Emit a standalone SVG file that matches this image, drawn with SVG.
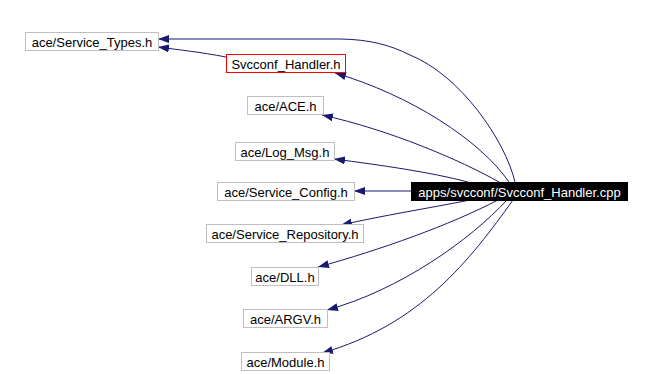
<svg xmlns="http://www.w3.org/2000/svg" width="652" height="374" viewBox="0 0 652 374">
  <style>
    .box { fill: #ffffff; stroke: #bfbfbf; stroke-width: 1; }
    .cur { fill: #ffffff; stroke: #ff0000; stroke-width: 1; }
    .root { fill: #000000; stroke: #000000; stroke-width: 1; }
    text { font-family: "Liberation Sans", Arial, sans-serif; font-size: 13px; fill: #000000; text-anchor: middle; }
    .root-label { fill: #ffffff; }
    .edge { fill: none; stroke: #191970; stroke-width: 1; marker-end: url(#arrow); }
  </style>
  <defs>
    <marker id="arrow" markerUnits="userSpaceOnUse" markerWidth="11" markerHeight="8" refX="11" refY="4" orient="auto">
      <path d="M0,0 L11,4 L0,8 z" fill="#191970"/>
    </marker>
  </defs>
  <rect width="652" height="374" fill="#ffffff"/>

  <g id="connectors">
    <path class="edge" d="M515,182 C505,140 460,75 410,55 C390,45 370,39.5 340,39 L158,39"/>
    <path class="edge" d="M226,57 C200,52 180,50 158,47"/>
    <path class="edge" d="M509,182 C480,140 410,95 335,73"/>
    <path class="edge" d="M499,182 C460,160 390,130 322,115"/>
    <path class="edge" d="M468,182 C430,172 380,165 334,159"/>
    <path class="edge" d="M411,191 L354,191"/>
    <path class="edge" d="M470,200 C430,208 380,216 341,225"/>
    <path class="edge" d="M498,200 C450,225 380,250 318,267"/>
    <path class="edge" d="M507,200 C470,240 400,290 327,310"/>
    <path class="edge" d="M513,200 C470,260 420,325 322,353"/>
  </g>

  <g id="node-service-types">
    <rect class="box" x="25.5" y="32.5" width="133" height="18"/>
    <text x="92" y="46.5">ace/Service_Types.h</text>
  </g>
  <g id="node-svcconf-handler-h">
    <rect class="cur" x="226.5" y="54.5" width="119" height="18"/>
    <text x="286" y="68.5">Svcconf_Handler.h</text>
  </g>
  <g id="node-ace">
    <rect class="box" x="247.5" y="96.5" width="76" height="18"/>
    <text x="285.5" y="110.5">ace/ACE.h</text>
  </g>
  <g id="node-log-msg">
    <rect class="box" x="235.5" y="142.5" width="99" height="18"/>
    <text x="285" y="156.5">ace/Log_Msg.h</text>
  </g>
  <g id="node-service-config">
    <rect class="box" x="217.5" y="182.5" width="137" height="18"/>
    <text x="286" y="196.5">ace/Service_Config.h</text>
  </g>
  <g id="node-service-repository">
    <rect class="box" x="206.5" y="224.5" width="157" height="18"/>
    <text x="285" y="238.5">ace/Service_Repository.h</text>
  </g>
  <g id="node-dll">
    <rect class="box" x="251.5" y="267.5" width="67" height="18"/>
    <text x="285" y="281.5">ace/DLL.h</text>
  </g>
  <g id="node-argv">
    <rect class="box" x="243.5" y="309.5" width="84" height="18"/>
    <text x="285.5" y="323.5">ace/ARGV.h</text>
  </g>
  <g id="node-module">
    <rect class="box" x="241.5" y="352.5" width="88" height="18"/>
    <text x="285.5" y="366.5">ace/Module.h</text>
  </g>
  <g id="node-svcconf-handler-cpp">
    <rect class="root" x="411.5" y="182.5" width="216" height="18"/>
    <text class="root-label" x="519.5" y="196.5">apps/svcconf/Svcconf_Handler.cpp</text>
  </g>
</svg>
